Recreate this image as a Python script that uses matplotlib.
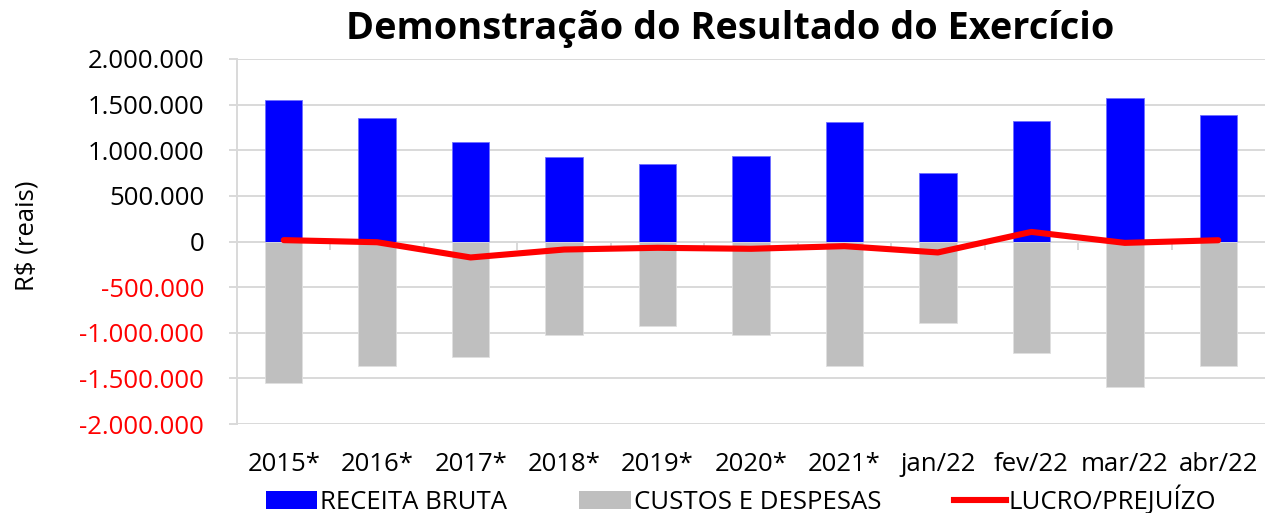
import numpy as np
import matplotlib
matplotlib.use("Agg")
import matplotlib.pyplot as plt
from matplotlib.patches import Patch
from matplotlib.lines import Line2D
from matplotlib.ticker import FuncFormatter

plt.rcParams['font.family'] = ['Open Sans', 'DejaVu Sans']

categories = ["2015*", "2016*", "2017*", "2018*", "2019*", "2020*", "2021*",
              "jan/22", "fev/22", "mar/22", "abr/22"]
receita = [1555000, 1354000, 1091000, 931000, 851000, 938000, 1311000,
           755000, 1325000, 1573000, 1383000]
custos = [-1551000, -1369000, -1270000, -1026000, -927000, -1030000, -1365000,
          -891000, -1219000, -1595000, -1369000]
lucro = [15000, -8000, -175000, -88000, -69000, -80000, -51000,
         -120000, 105000, -15000, 14000]
series_names = ["RECEITA BRUTA", "CUSTOS E DESPESAS", "LUCRO/PREJUÍZO"]
yticks = [-2000000, -1500000, -1000000, -500000, 0, 500000, 1000000, 1500000, 2000000]
title = "Demonstração do Resultado do Exercício"
ylabel = "R$ (reais)"

BLUE = "#0000FF"
GRAY = "#BFBFBF"
RED = "#FF0000"
GRID = "#D9D9D9"

W, H = 1269, 513
fig = plt.figure(figsize=(W / 100, H / 100), dpi=100)
ax = fig.add_axes([237 / W, 1 - 424 / H, (1265 - 237) / W, (424 - 59) / H])

x = np.arange(len(categories))
ax.bar(x, receita, width=0.4, color=BLUE, edgecolor="#6f6fff", linewidth=0.6, zorder=3)
ax.bar(x, custos, width=0.4, color=GRAY, edgecolor="#e0e0e0", linewidth=0.6, zorder=3)
ax.plot(x, lucro, color=RED, linewidth=4.4, solid_capstyle="round",
        solid_joinstyle="round", zorder=4)

ax.set_xlim(-0.5, len(categories) - 0.5)
ax.set_ylim(-2000000, 2000000)
ax.set_yticks(yticks)
ax.yaxis.set_major_formatter(FuncFormatter(lambda v, p: f"{int(v):,}".replace(",", ".")))
ax.grid(axis="y", color=GRID, linewidth=1.4, zorder=0)
ax.axhline(0, color=GRID, linewidth=1.4, zorder=1)
ax.vlines(np.arange(0.5, len(categories) - 0.5, 1), -95000, 0, color=GRID,
          linewidth=1.4, zorder=1)

for s in ["top", "right", "bottom"]:
    ax.spines[s].set_visible(False)
ax.spines["left"].set_color(GRID)
ax.spines["left"].set_linewidth(1.4)
ax.tick_params(axis="y", length=6, color=GRID, width=1.4, labelsize=18.5, pad=17.5)
ax.tick_params(axis="x", length=0, labelsize=18.5, pad=20)
ax.set_xticks(x, categories)
for lbl, v in zip(ax.get_yticklabels(), yticks):
    lbl.set_color(RED if v < 0 else "black")

fig.text(27 / W, 1 - 236 / H, ylabel, rotation=90, ha="center", va="center", fontsize=18.5)
fig.text(730 / W, 1 - 29 / H, title, ha="center", va="center", fontsize=27.3,
         fontweight="bold")

handles = [Patch(facecolor=BLUE, edgecolor="none"),
           Patch(facecolor=GRAY, edgecolor="none"),
           Line2D([0], [0], color=RED, linewidth=4.4)]
fig.legend(handles, series_names, loc="center", bbox_to_anchor=(741 / W, 1 - 500 / H),
           ncol=3, frameon=False, fontsize=18.5, handlelength=2.02, handleheight=0.7,
           handletextpad=0.12, columnspacing=2.8, borderpad=0, borderaxespad=0)

fig.savefig("out.png", dpi=100)
